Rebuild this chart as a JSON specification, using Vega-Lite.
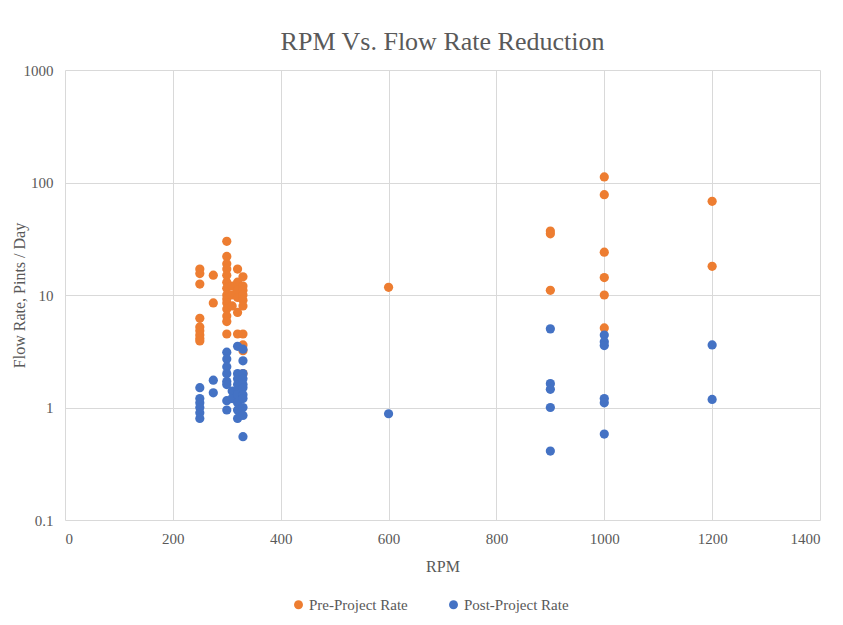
{
  "$schema": "https://vega.github.io/schema/vega-lite/v6.json",
  "autosize": {"type": "none"},
  "padding": {"left": 65, "top": 70, "right": 23, "bottom": 105},
  "width": 755,
  "height": 450,
  "background": "white",
  "title": {"text": "RPM Vs. Flow Rate Reduction", "font": "Times New Roman, Liberation Serif, DejaVu Serif, serif", "fontSize": 26, "fontWeight": "normal", "color": "#595959", "offset": 8},
  "datasets": {
    "pre": [
      {"rpm": 250, "rate": 17}, {"rpm": 250, "rate": 15.5}, {"rpm": 250, "rate": 12.5}, {"rpm": 250, "rate": 6.2}, {"rpm": 250, "rate": 5.2}, {"rpm": 250, "rate": 4.8}, {"rpm": 250, "rate": 4.4}, {"rpm": 250, "rate": 4.1}, {"rpm": 250, "rate": 3.9},
      {"rpm": 275, "rate": 15}, {"rpm": 275, "rate": 8.5},
      {"rpm": 300, "rate": 30}, {"rpm": 300, "rate": 22}, {"rpm": 300, "rate": 19}, {"rpm": 300, "rate": 17}, {"rpm": 300, "rate": 15}, {"rpm": 300, "rate": 13}, {"rpm": 300, "rate": 11.5}, {"rpm": 300, "rate": 10}, {"rpm": 300, "rate": 9.2}, {"rpm": 300, "rate": 8.5}, {"rpm": 300, "rate": 7.5}, {"rpm": 300, "rate": 6.5}, {"rpm": 300, "rate": 5.8}, {"rpm": 300, "rate": 4.5},
      {"rpm": 310, "rate": 12}, {"rpm": 310, "rate": 10}, {"rpm": 310, "rate": 8},
      {"rpm": 320, "rate": 17}, {"rpm": 320, "rate": 13}, {"rpm": 320, "rate": 11}, {"rpm": 320, "rate": 9.5}, {"rpm": 320, "rate": 7}, {"rpm": 320, "rate": 4.5},
      {"rpm": 330, "rate": 14.5}, {"rpm": 330, "rate": 12}, {"rpm": 330, "rate": 11}, {"rpm": 330, "rate": 10}, {"rpm": 330, "rate": 9}, {"rpm": 330, "rate": 8}, {"rpm": 330, "rate": 4.5}, {"rpm": 330, "rate": 3.6}, {"rpm": 330, "rate": 3.2}, {"rpm": 330, "rate": 2.0},
      {"rpm": 600, "rate": 11.7},
      {"rpm": 900, "rate": 37}, {"rpm": 900, "rate": 35}, {"rpm": 900, "rate": 11},
      {"rpm": 1000, "rate": 112}, {"rpm": 1000, "rate": 78}, {"rpm": 1000, "rate": 24}, {"rpm": 1000, "rate": 14.3}, {"rpm": 1000, "rate": 10}, {"rpm": 1000, "rate": 5.1},
      {"rpm": 1200, "rate": 68}, {"rpm": 1200, "rate": 18}
    ],
    "post": [
      {"rpm": 250, "rate": 1.5}, {"rpm": 250, "rate": 1.2}, {"rpm": 250, "rate": 1.1}, {"rpm": 250, "rate": 1.0}, {"rpm": 250, "rate": 0.9}, {"rpm": 250, "rate": 0.8},
      {"rpm": 275, "rate": 1.75}, {"rpm": 275, "rate": 1.35},
      {"rpm": 300, "rate": 3.1}, {"rpm": 300, "rate": 2.7}, {"rpm": 300, "rate": 2.3}, {"rpm": 300, "rate": 2.0}, {"rpm": 300, "rate": 1.7}, {"rpm": 300, "rate": 1.6}, {"rpm": 300, "rate": 1.15}, {"rpm": 300, "rate": 0.95},
      {"rpm": 310, "rate": 1.4}, {"rpm": 310, "rate": 1.2},
      {"rpm": 320, "rate": 3.5}, {"rpm": 320, "rate": 2.0}, {"rpm": 320, "rate": 1.8}, {"rpm": 320, "rate": 1.6}, {"rpm": 320, "rate": 1.4}, {"rpm": 320, "rate": 1.3}, {"rpm": 320, "rate": 1.1}, {"rpm": 320, "rate": 0.95}, {"rpm": 320, "rate": 0.8},
      {"rpm": 330, "rate": 3.3}, {"rpm": 330, "rate": 2.6}, {"rpm": 330, "rate": 2.0}, {"rpm": 330, "rate": 1.8}, {"rpm": 330, "rate": 1.6}, {"rpm": 330, "rate": 1.5}, {"rpm": 330, "rate": 1.3}, {"rpm": 330, "rate": 1.2}, {"rpm": 330, "rate": 1.0}, {"rpm": 330, "rate": 0.85}, {"rpm": 330, "rate": 0.55},
      {"rpm": 600, "rate": 0.88},
      {"rpm": 900, "rate": 5.0}, {"rpm": 900, "rate": 1.63}, {"rpm": 900, "rate": 1.45}, {"rpm": 900, "rate": 1.0}, {"rpm": 900, "rate": 0.41},
      {"rpm": 1000, "rate": 4.4}, {"rpm": 1000, "rate": 3.85}, {"rpm": 1000, "rate": 3.55}, {"rpm": 1000, "rate": 1.2}, {"rpm": 1000, "rate": 1.1}, {"rpm": 1000, "rate": 0.58},
      {"rpm": 1200, "rate": 3.6}, {"rpm": 1200, "rate": 1.18}
    ]
  },
  "data": {"name": "pre"},
  "transform": [
    {"calculate": "'Pre-Project Rate'", "as": "series"}
  ],
  "layer": [
    {
      "mark": {"type": "point", "filled": true, "size": 85, "opacity": 1},
      "encoding": {
        "x": {"field": "rpm", "type": "quantitative"},
        "y": {"field": "rate", "type": "quantitative"},
        "color": {"field": "series", "type": "nominal"}
      }
    },
    {
      "data": {"name": "post"},
      "transform": [{"calculate": "'Post-Project Rate'", "as": "series"}],
      "mark": {"type": "point", "filled": true, "size": 85, "opacity": 1},
      "encoding": {
        "x": {"field": "rpm", "type": "quantitative"},
        "y": {"field": "rate", "type": "quantitative"},
        "color": {"field": "series", "type": "nominal"}
      }
    }
  ],
  "encoding": {
    "x": {"field": "rpm", "type": "quantitative", "title": "RPM",
      "scale": {"domain": [0, 1400], "nice": false, "zero": true},
      "axis": {"values": [0, 200, 400, 600, 800, 1000, 1200, 1400], "format": "d", "labelPadding": 11, "titlePadding": 12,
        "labelFont": "Times New Roman, Liberation Serif, DejaVu Serif, serif", "labelFontSize": 15, "labelColor": "#595959",
        "titleFont": "Times New Roman, Liberation Serif, DejaVu Serif, serif", "titleFontSize": 16, "titleFontWeight": "normal", "titleColor": "#595959"}},
    "y": {"field": "rate", "type": "quantitative", "title": "Flow Rate, Pints / Day",
      "scale": {"type": "log", "domain": [0.1, 1000], "nice": false},
      "axis": {"values": [0.1, 1, 10, 100, 1000], "format": "~g", "labelPadding": 12, "titlePadding": -4,
        "labelFont": "Times New Roman, Liberation Serif, DejaVu Serif, serif", "labelFontSize": 15, "labelColor": "#595959",
        "titleFont": "Times New Roman, Liberation Serif, DejaVu Serif, serif", "titleFontSize": 16, "titleFontWeight": "normal", "titleColor": "#595959"}},
    "color": {"field": "series", "type": "nominal", "title": null,
      "scale": {"domain": ["Pre-Project Rate", "Post-Project Rate"], "range": ["#ED7D31", "#4472C4"]},
      "legend": {"orient": "none", "legendX": 226, "legendY": 527, "direction": "horizontal", "symbolType": "circle", "symbolSize": 80, "columnPadding": 38, "labelOffset": 3, "labelFont": "Times New Roman, Liberation Serif, DejaVu Serif, serif", "labelFontSize": 15, "labelColor": "#595959"}}
  },
  "config": {
    "font": "Times New Roman, Liberation Serif, DejaVu Serif, serif",
    "view": {"stroke": null},
    "axis": {
      "grid": true, "gridColor": "#d9d9d9", "gridWidth": 1,
      "domain": false, "ticks": false
    }
  }
}
